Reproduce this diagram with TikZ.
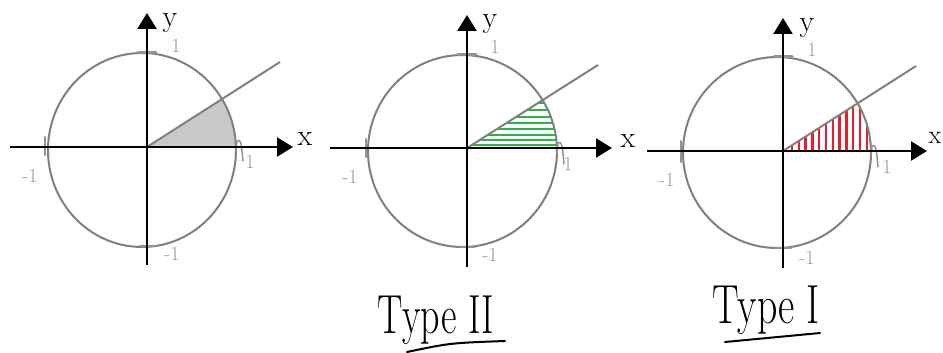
\documentclass[tikz,border=0pt]{standalone}
\usetikzlibrary{arrows.meta}
\definecolor{circgray}{RGB}{128,128,128}
\definecolor{lblgray}{RGB}{150,150,150}
\definecolor{hatchgreen}{RGB}{40,180,70}
\definecolor{hatchred}{RGB}{235,30,45}
\definecolor{fillgray}{RGB}{200,200,200}
\tikzset{
  axisline/.style={line width=2.4pt, black, -{Triangle[length=16pt,width=19pt]}},
  unitcirc/.style={draw=circgray, line width=2pt},
  rayline/.style={draw=circgray, line width=2pt},
  tickmark/.style={draw=circgray!85, line width=2pt, line cap=round},
  ticklbl/.style={text=lblgray, font=\fontsize{20}{20}\selectfont, inner sep=0pt, anchor=base},
  axlbl/.style={font=\fontsize{30}{30}\selectfont, inner sep=0pt, anchor=base},
  typelbl/.style={font=\fontsize{38}{38}\selectfont, inner sep=0pt, anchor=base},
  underline/.style={line width=2pt, black, line cap=round},
  greenhatch/.style={draw=hatchgreen, line width=2.6pt},
  redhatch/.style={draw=hatchred, line width=2.5pt},
}
\begin{document}
\begin{tikzpicture}[x=1pt,y=-1pt]
\useasboundingbox (0,0) rectangle (943,353);

% ---------------- Diagram 1 ----------------
\coordinate (o1) at (147,147);
\coordinate (c1) at (142,150);
\coordinate (r1) at (280,62);
\begin{scope}
  \clip (c1) ellipse [x radius=94, y radius=97];
  \fill[fillgray] (o1) -- (r1) -- (r1 |- o1) -- cycle;
\end{scope}
\draw[unitcirc] (c1) ellipse [x radius=94, y radius=97];
\draw[rayline] (o1) -- (r1);
\coordinate (t1a) at (138,53); \coordinate (t1b) at (156,53);
\draw[tickmark, line width=3pt] (t1a) -- (t1b);
\coordinate (t1c) at (45,137); \coordinate (t1d) at (45,155);
\draw[tickmark] (t1c) -- (t1d);
\coordinate (t1e) at (236,151); \coordinate (t1f) at (243,161);
\draw[tickmark, line width=1.5pt] (t1e) -- ++(1,-10) .. controls ++(4,-1) .. (t1f);
\coordinate (t1g) at (140,246); \coordinate (t1h) at (155,246);
\draw[tickmark] (t1g) -- (t1h);
\coordinate (xa1) at (10,147); \coordinate (xb1) at (293,147);
\coordinate (ya1) at (147,265); \coordinate (yb1) at (147,13);
\draw[axisline] (xa1) -- (xb1);
\draw[axisline] (ya1) -- (yb1);
\node[axlbl] (ylab1) at (170,27) {y};
\node[axlbl] (xlab1) at (305,145) {x};
\node[ticklbl] (one1y) at (176,53) {1};
\node[ticklbl] (one1x) at (250,168) {1};
\node[ticklbl] (m1x) at (30,182) {-1};
\node[ticklbl] (m1y) at (172,260) {-1};

% ---------------- Diagram 2 ----------------
\coordinate (o2) at (467,148);
\coordinate (c2) at (462.5,151);
\coordinate (r2) at (598,65);
\begin{scope}
  \clip (c2) ellipse [x radius=94.5, y radius=96];
  \clip (o2) -- (r2) -- (r2 |- o2) -- cycle;
  \foreach \yy in {103,110,117,123,129,135,140,145}
    \draw[greenhatch] (467,\yy) -- (600,\yy);
\end{scope}
\draw[unitcirc] (c2) ellipse [x radius=94.5, y radius=96];
\draw[rayline] (o2) -- (r2);
\coordinate (t2a) at (458,55); \coordinate (t2b) at (476,55);
\draw[tickmark, line width=3pt] (t2a) -- (t2b);
\coordinate (t2c) at (366,139); \coordinate (t2d) at (366,157);
\draw[tickmark] (t2c) -- (t2d);
\coordinate (t2e) at (557,153); \coordinate (t2f) at (564,164);
\draw[tickmark, line width=1.5pt] (t2e) -- ++(1,-10) .. controls ++(4,-1) .. (t2f);
\coordinate (t2g) at (460,247); \coordinate (t2h) at (475,247);
\draw[tickmark] (t2g) -- (t2h);
\coordinate (xa2) at (330,148); \coordinate (xb2) at (612,148);
\coordinate (ya2) at (467,267); \coordinate (yb2) at (467,15);
\draw[axisline] (xa2) -- (xb2);
\draw[axisline] (ya2) -- (yb2);
\node[axlbl] (ylab2) at (490,28) {y};
\node[axlbl] (xlab2) at (628,147) {x};
\node[ticklbl] (one2y) at (495,54) {1};
\node[ticklbl] (one2x) at (568,170) {1};
\node[ticklbl] (m2x) at (350,183) {-1};
\node[ticklbl] (m2y) at (490,261) {-1};

% ---------------- Diagram 3 ----------------
\coordinate (o3) at (783,151);
\coordinate (c3) at (777,152.5);
\coordinate (r3) at (916,66);
\begin{scope}
  \clip (c3) ellipse [x radius=94, y radius=95.5];
  \clip (o3) -- (r3) -- (r3 |- o3) -- cycle;
  \foreach \i in {0,...,11}
    \draw[redhatch] ({792+6.8*\i},153) -- ({792+6.8*\i},60);
\end{scope}
\draw[unitcirc] (c3) ellipse [x radius=94, y radius=95.5];
\draw[rayline] (o3) -- (r3);
\coordinate (t3a) at (774,57); \coordinate (t3b) at (792,57);
\draw[tickmark, line width=3pt] (t3a) -- (t3b);
\coordinate (t3c) at (681,141); \coordinate (t3d) at (681,162);
\draw[tickmark] (t3c) -- (t3d);
\coordinate (t3e) at (871,156); \coordinate (t3f) at (878,167);
\draw[tickmark, line width=1.5pt] (t3e) -- ++(1,-10) .. controls ++(4,-1) .. (t3f);
\coordinate (t3g) at (776,248); \coordinate (t3h) at (791,248);
\draw[tickmark] (t3g) -- (t3h);
\coordinate (xa3) at (647,151); \coordinate (xb3) at (927,151);
\coordinate (ya3) at (783,268); \coordinate (yb3) at (783,18);
\draw[axisline] (xa3) -- (xb3);
\draw[axisline] (ya3) -- (yb3);
\node[axlbl] (ylab3) at (807,32) {y};
\node[axlbl, font=\fontsize{26}{26}\selectfont] (xlab3) at (935,143) {x};
\node[ticklbl] (one3y) at (812,57) {1};
\node[ticklbl] (one3x) at (887,173) {1};
\node[ticklbl] (m3x) at (667,186) {-1};
\node[ticklbl] (m3y) at (807,264) {-1};

% ---------------- Type labels ----------------
\node[typelbl] (type2) at (436,333) {\scalebox{1}[1.45]{Type II}};
\coordinate (u2a) at (407,352); \coordinate (u2b) at (505,341);
\draw[underline] (u2a) .. controls (450,343) .. (u2b);
\node[typelbl] (type1) at (766,323) {\scalebox{1.05}[1.45]{Type I}};
\coordinate (u1a) at (725,342); \coordinate (u1b) at (820,333);
\draw[underline] (u1a) -- (u1b);
\end{tikzpicture}
\end{document}
